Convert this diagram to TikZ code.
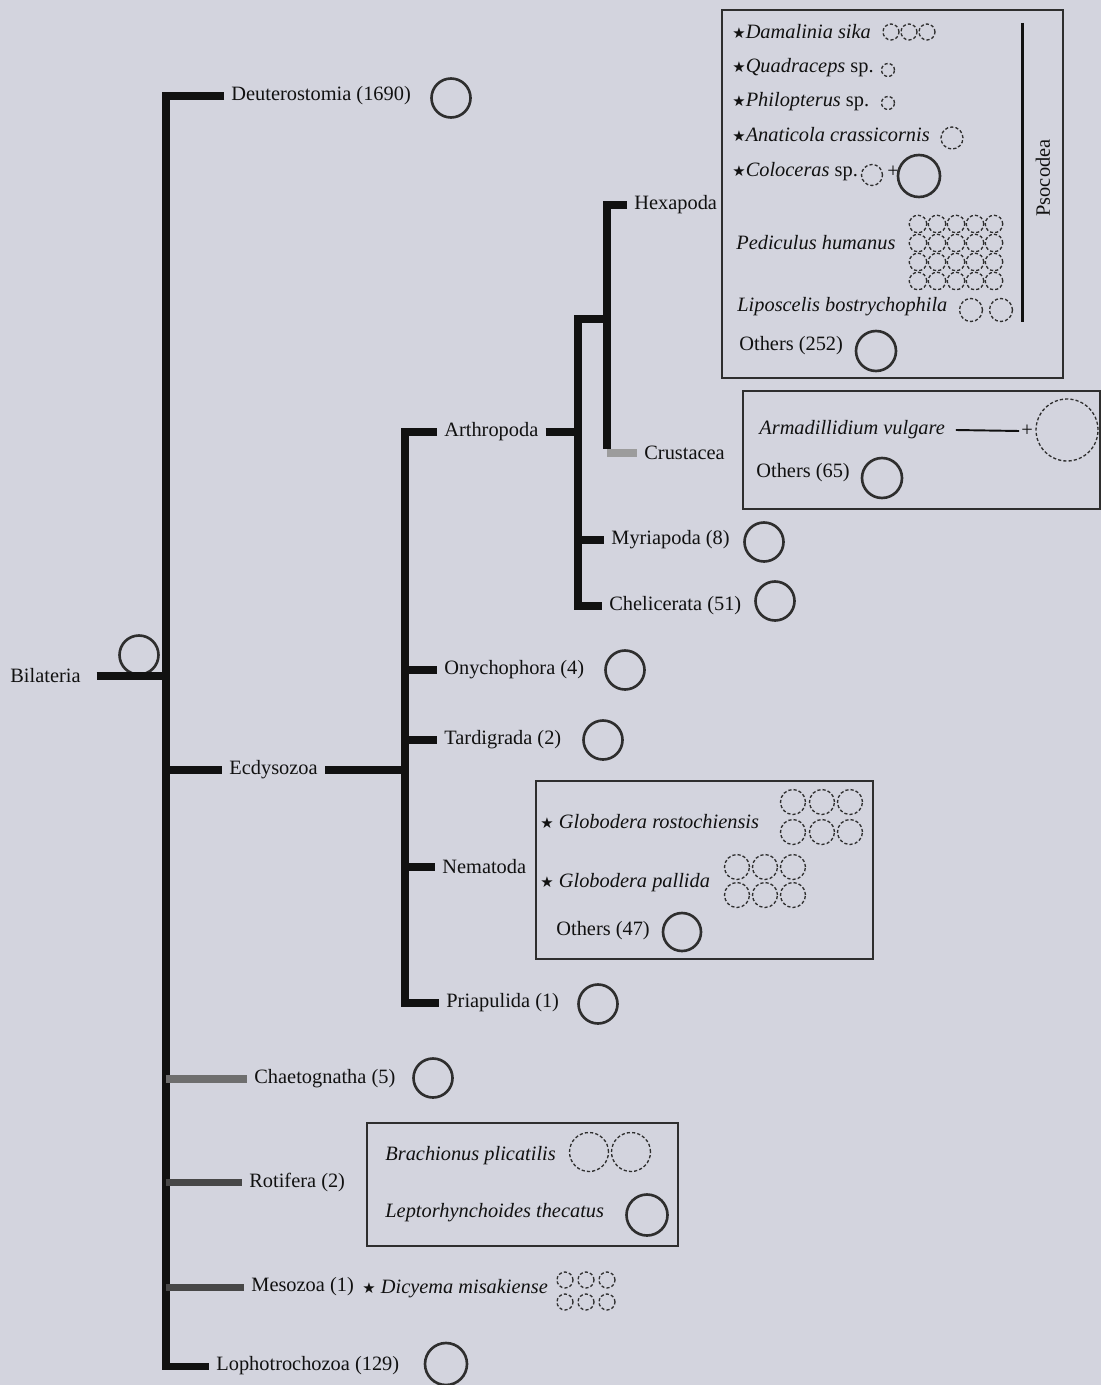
\documentclass[tikz,border=0pt]{standalone}
\usepackage{fontspec}
\setmainfont{Liberation Serif}
\newfontfamily\starfont{DejaVu Sans}
\usepackage{tikz}
\definecolor{paper}{HTML}{D3D4DE}
\definecolor{ink}{HTML}{111111}
\definecolor{ringc}{HTML}{2E2E2E}
\definecolor{darkbar}{HTML}{474747}
\definecolor{midbar}{HTML}{6E6E6E}
\definecolor{lightbar}{HTML}{9C9C9C}
\newcommand\tstar{{\starfont\fontsize{8.5}{9}\selectfont ★}}

\begin{document}
\begin{tikzpicture}[x=0.02cm,y=-0.02cm,every node/.style={font=\fontsize{11.6}{14}\selectfont,text=ink}]
\tikzstyle{taxon}=[anchor=west,inner xsep=4pt,inner ysep=1pt]
\tikzstyle{branch}=[draw=ink,line width=4pt]
\tikzstyle{ring}=[circle,draw=ringc,line width=1.5pt,minimum size=0.78cm,inner sep=0pt]
\tikzstyle{dring}=[circle,draw=ringc,line width=0.75pt,dash pattern=on 1.8pt off 1.2pt,inner sep=0pt]
\tikzstyle{panel}=[draw=ringc,line width=0.8pt,inner sep=0pt]
\fill[paper] (0,0) rectangle (1101,1385);
\useasboundingbox (0,0) rectangle (1101,1385);

\coordinate (spine) at (166,0);
\coordinate (ecdx) at (405,0);
\coordinate (artx) at (578,0);
\coordinate (pancr) at (607,319);

\node[taxon] (deut) at (224,96) {Deuterostomia (1690)};
\node[taxon] (bil) at (3,676) {Bilateria};
\node[taxon] (ecd) at (222,770) {Ecdysozoa};
\node[taxon] (arth) at (437,432) {Arthropoda};
\node[taxon] (hexa) at (627,205) {Hexapoda};
\node[taxon] (crus) at (637,453) {Crustacea};
\node[taxon] (myria) at (604,540) {Myriapoda (8)};
\node[taxon] (chel) at (602,606) {Chelicerata (51)};
\node[taxon] (onych) at (437,670) {Onychophora (4)};
\node[taxon] (tard) at (437,740) {Tardigrada (2)};
\node[taxon] (nema) at (435,867) {Nematoda};
\node[taxon] (pria) at (439,1003) {Priapulida (1)};
\node[taxon] (chaet) at (247,1079) {Chaetognatha (5)};
\node[taxon] (roti) at (242,1182) {Rotifera (2)};
\node[taxon] (meso) at (244,1287) {Mesozoa (1)};
\node[taxon] (lopho) at (209,1366) {Lophotrochozoa (129)};

\node[ring] (r-deut) at (451,98) {};
\node[ring] (r-bil) at (139,655) {};
\node[ring] (r-myria) at (764,542) {};
\node[ring] (r-chel) at (775,601) {};
\node[ring] (r-onych) at (625,670) {};
\node[ring] (r-tard) at (603,740) {};
\node[ring] (r-pria) at (598,1004) {};
\node[ring] (r-chaet) at (433,1078) {};
\node[ring,minimum size=0.84cm] (r-lopho) at (446,1364) {};

\draw[branch] (deut.west) -- (deut.west -| spine) -- (lopho.west -| spine) -- (lopho.west);
\draw[branch] ([xshift=5pt]bil.east) -- (bil.east -| spine);
\draw[branch] (ecd.west -| spine) -- (ecd.west);
\draw[branch,draw=midbar] (chaet.west -| spine) -- (chaet.west);
\draw[branch,draw=darkbar] (roti.west -| spine) -- (roti.west);
\draw[branch,draw=darkbar] (meso.west -| spine) -- (meso.west);
\draw[branch] (arth.west) -- (arth.west -| ecdx) -- (pria.west -| ecdx) -- (pria.west);
\draw[branch] (ecd.east) -- (ecd.east -| ecdx);
\draw[branch] (onych.west -| ecdx) -- (onych.west);
\draw[branch] (tard.west -| ecdx) -- (tard.west);
\draw[branch] (nema.west -| ecdx) -- (nema.west);
\draw[branch] (pancr) -- (pancr -| artx) -- (chel.west -| artx) -- (chel.west);
\draw[branch] (arth.east) -- (arth.east -| artx);
\draw[branch] (myria.west -| artx) -- (myria.west);
\draw[branch] (hexa.west) -- (hexa.west -| pancr) -- ([yshift=2pt]crus.west -| pancr);
\draw[branch,draw=lightbar] (crus.west -| pancr) -- (crus.west);

\node[panel,minimum width=6.82cm,minimum height=7.36cm] (psocbox) at (892.5,194) {};
\node[taxon] (dsika) at (725,32) {\tstar\textit{Damalinia sika}};
\node[dring,minimum size=0.32cm] (d1) at (891,32) {};
\node[dring,minimum size=0.32cm] (d2) at (909,32) {};
\node[dring,minimum size=0.32cm] (d3) at (927,32) {};
\node[taxon] (quadr) at (725,68) {\tstar\textit{Quadraceps} sp.};
\node[dring,minimum size=0.26cm] (q1) at (888,70) {};
\node[taxon] (philo) at (725,102) {\tstar\textit{Philopterus} sp.};
\node[dring,minimum size=0.26cm] (p1) at (888,103) {};
\node[taxon] (anati) at (725,135) {\tstar\textit{Anaticola crassicornis}};
\node[dring,minimum size=0.44cm] (a1) at (952,138) {};
\node[taxon] (colo) at (725,172) {\tstar\textit{Coloceras} sp.};
\node[dring,minimum size=0.42cm] (c1) at (872,175) {};
\node[inner sep=1pt] (plus0) at (893,172) {+};
\node[ring,minimum size=0.84cm] (c2) at (919,176) {};
\node[taxon] (pedic) at (729,243) {\textit{Pediculus humanus}};
\node[dring,minimum size=0.35cm] (h11) at (918,224) {}; \node[dring,minimum size=0.35cm] (h12) at (937,224) {}; \node[dring,minimum size=0.35cm] (h13) at (956,224) {}; \node[dring,minimum size=0.35cm] (h14) at (975,224) {}; \node[dring,minimum size=0.35cm] (h15) at (994,224) {};
\node[dring,minimum size=0.35cm] (h21) at (918,243) {}; \node[dring,minimum size=0.35cm] (h22) at (937,243) {}; \node[dring,minimum size=0.35cm] (h23) at (956,243) {}; \node[dring,minimum size=0.35cm] (h24) at (975,243) {}; \node[dring,minimum size=0.35cm] (h25) at (994,243) {};
\node[dring,minimum size=0.35cm] (h31) at (918,262) {}; \node[dring,minimum size=0.35cm] (h32) at (937,262) {}; \node[dring,minimum size=0.35cm] (h33) at (956,262) {}; \node[dring,minimum size=0.35cm] (h34) at (975,262) {}; \node[dring,minimum size=0.35cm] (h35) at (994,262) {};
\node[dring,minimum size=0.35cm] (h41) at (918,281) {}; \node[dring,minimum size=0.35cm] (h42) at (937,281) {}; \node[dring,minimum size=0.35cm] (h43) at (956,281) {}; \node[dring,minimum size=0.35cm] (h44) at (975,281) {}; \node[dring,minimum size=0.35cm] (h45) at (994,281) {};
\node[taxon] (lipos) at (730,307) {\textit{Liposcelis bostrychophila}};
\node[dring,minimum size=0.46cm] (l1) at (971,310) {};
\node[dring,minimum size=0.46cm] (l2) at (1001,310) {};
\node[taxon] (oth252) at (732,346) {Others (252)};
\node[ring,minimum size=0.8cm] (r-oth252) at (876,351) {};
\coordinate (psoctop) at (1022,23);
\coordinate (psocbot) at (1022,322);
\draw[ink,line width=1.7pt] (psoctop) -- (psocbot);
\node[rotate=90] (psoc) at (1043,178) {Psocodea};

\node[panel,minimum width=7.14cm,minimum height=2.36cm] (crusbox) at (921.5,450) {};
\node[taxon] (armad) at (752,430) {\textit{Armadillidium vulgare}};
\node[inner sep=1pt] (plus1) at (1027,431) {+};
\node[dring,minimum size=1.24cm] (arm1) at (1067,430) {};
\draw[ink,line width=1.1pt] ([xshift=2pt]armad.east) -- (plus1.west);
\node[taxon] (oth65) at (749,473) {Others (65)};
\node[ring,minimum size=0.8cm] (r-oth65) at (882,478) {};

\node[panel,minimum width=6.74cm,minimum height=3.56cm] (nemabox) at (704.5,870) {};
\node[taxon] (grost) at (533,822) {\tstar\ \textit{Globodera rostochiensis}};
\node[dring,minimum size=0.5cm] (g11) at (793,802) {}; \node[dring,minimum size=0.5cm] (g12) at (822,802) {}; \node[dring,minimum size=0.5cm] (g13) at (850,802) {};
\node[dring,minimum size=0.5cm] (g14) at (793,832) {}; \node[dring,minimum size=0.5cm] (g15) at (822,832) {}; \node[dring,minimum size=0.5cm] (g16) at (850,832) {};
\node[taxon] (gpall) at (533,883) {\tstar\ \textit{Globodera pallida}};
\node[dring,minimum size=0.5cm] (g21) at (737,867) {}; \node[dring,minimum size=0.5cm] (g22) at (765,867) {}; \node[dring,minimum size=0.5cm] (g23) at (793,867) {};
\node[dring,minimum size=0.5cm] (g24) at (737,895) {}; \node[dring,minimum size=0.5cm] (g25) at (765,895) {}; \node[dring,minimum size=0.5cm] (g26) at (793,895) {};
\node[taxon] (oth47) at (549,931) {Others (47)};
\node[ring,minimum size=0.76cm] (r-oth47) at (682,932) {};

\node[panel,minimum width=6.22cm,minimum height=2.46cm] (rotibox) at (522.5,1184.5) {};
\node[taxon] (brach) at (378,1156) {\textit{Brachionus plicatilis}};
\node[dring,minimum size=0.78cm] (b1) at (589,1152) {};
\node[dring,minimum size=0.78cm] (b2) at (631,1152) {};
\node[taxon] (lepto) at (378,1213) {\textit{Leptorhynchoides thecatus}};
\node[ring,minimum size=0.82cm] (r-lepto) at (647,1215) {};

\node[taxon] (dicy) at (355,1289) {\tstar\ \textit{Dicyema misakiense}};
\node[dring,minimum size=0.32cm] (m1) at (565,1280) {}; \node[dring,minimum size=0.32cm] (m2) at (586,1280) {}; \node[dring,minimum size=0.32cm] (m3) at (607,1280) {};
\node[dring,minimum size=0.32cm] (m4) at (565,1302) {}; \node[dring,minimum size=0.32cm] (m5) at (586,1302) {}; \node[dring,minimum size=0.32cm] (m6) at (607,1302) {};
\end{tikzpicture}
\end{document}
